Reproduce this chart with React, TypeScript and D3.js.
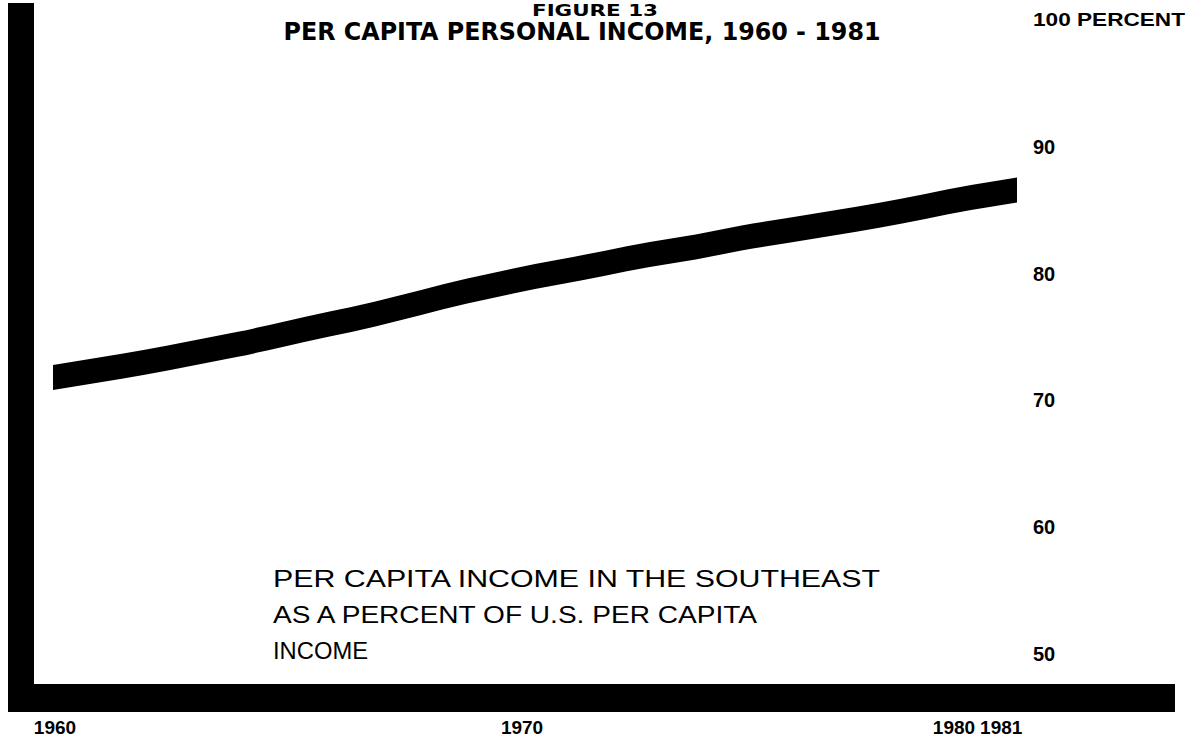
import React, { useEffect, useRef } from "react";
import * as d3 from "d3";

// Southeast per capita income as % of U.S.
const years = [
  1960, 1961, 1962, 1963, 1964, 1965, 1966, 1967, 1968, 1969, 1970,
  1971, 1972, 1973, 1974, 1975, 1976, 1977, 1978, 1979, 1980, 1981,
];
const southeastPct = [
  71.8, 72.4, 73.0, 73.7, 74.4, 75.2, 76.0, 76.8, 77.7, 78.6, 79.4,
  80.1, 80.8, 81.5, 82.1, 82.8, 83.4, 84.0, 84.6, 85.3, 86.0, 86.6,
];
const yTicks = [90, 80, 70, 60, 50];
const xTickYears = [1960, 1970, 1980, 1981];
const titleLines = ["FIGURE 13", "PER CAPITA PERSONAL INCOME, 1960 - 1981"];
const noteLines = [
  "PER CAPITA INCOME IN THE SOUTHEAST",
  "AS A PERCENT OF U.S. PER CAPITA",
  "INCOME",
];

const W = 1190;
const H = 740;

const App: React.FC = () => {
  const svgRef = useRef<SVGSVGElement | null>(null);

  useEffect(() => {
    const svg = d3.select(svgRef.current).attr("width", W).attr("height", H);
    svg.selectAll("*").remove();

    const x = d3.scaleLinear().domain([1960, 1981]).range([53, 1017]);
    const y = d3.scaleLinear().domain([50, 100]).range([654, 20]);

    svg.append("rect").attr("width", W).attr("height", H).attr("fill", "#fff");

    // heavy frame: left post and floor
    svg.append("rect").attr("x", 8).attr("y", 3).attr("width", 26).attr("height", 709).attr("fill", "#000");
    svg.append("rect").attr("x", 8).attr("y", 684).attr("width", 1167).attr("height", 28).attr("fill", "#000");

    // the thick band
    const half = 12.5;
    const data = years.map((yr, i) => ({ yr, v: southeastPct[i] }));
    const band = d3
      .area<{ yr: number; v: number }>()
      .x((d) => x(d.yr))
      .y0((d) => y(d.v) - half)
      .y1((d) => y(d.v) + half)
      .curve(d3.curveMonotoneX);
    svg.append("path").datum(data).attr("d", band).attr("fill", "#000");

    const labelFont = "'Liberation Sans', Arial, sans-serif";

    // right-hand value labels
    svg
      .append("g")
      .selectAll("text")
      .data(yTicks)
      .join("text")
      .attr("x", 1033)
      .attr("y", (d) => y(d) + 7)
      .attr("font-family", labelFont)
      .attr("font-size", 20)
      .attr("font-weight", "bold")
      .text((d) => d);

    svg
      .append("text")
      .attr("x", 1033)
      .attr("y", y(100) + 6)
      .attr("font-family", labelFont)
      .attr("font-size", 19)
      .attr("font-weight", "bold")
      .attr("textLength", 152)
      .attr("lengthAdjust", "spacingAndGlyphs")
      .text("100 PERCENT");

    // year labels under the floor
    const yearPos: Record<number, { dx: number; anchor: string; base: number }> = {
      1960: { dx: 2, anchor: "middle", base: 1960 },
      1970: { dx: 10, anchor: "middle", base: 1970 },
      1980: { dx: 4, anchor: "end", base: 1980 },
      1981: { dx: 9, anchor: "start", base: 1980 },
    };
    svg
      .append("g")
      .selectAll("text")
      .data(xTickYears)
      .join("text")
      .attr("x", (d) => x(yearPos[d].base) + yearPos[d].dx)
      .attr("y", 734)
      .attr("text-anchor", (d) => yearPos[d].anchor)
      .attr("font-family", labelFont)
      .attr("font-size", 19)
      .attr("font-weight", "bold")
      .text((d) => d);

    // title
    const titleFont = "'Liberation Sans Narrow', 'DejaVu Sans Condensed', Arial, sans-serif";
    svg
      .append("text")
      .attr("x", 595)
      .attr("y", 16)
      .attr("text-anchor", "middle")
      .attr("font-family", titleFont)
      .attr("font-size", 15)
      .attr("font-weight", 900)
      .attr("textLength", 126)
      .attr("lengthAdjust", "spacingAndGlyphs")
      .text(titleLines[0]);
    svg
      .append("text")
      .attr("x", 582)
      .attr("y", 40)
      .attr("text-anchor", "middle")
      .attr("font-family", titleFont)
      .attr("font-size", 24)
      .attr("font-weight", 900)
      .attr("textLength", 597)
      .attr("lengthAdjust", "spacingAndGlyphs")
      .text(titleLines[1]);

    // note inside plot
    const noteWidths = [607, 484, 95];
    svg
      .append("g")
      .selectAll("text")
      .data(noteLines)
      .join("text")
      .attr("x", 273)
      .attr("y", (_, i) => 587 + i * 36)
      .attr("font-family", labelFont)
      .attr("font-size", 24)
      .attr("textLength", (_, i) => noteWidths[i])
      .attr("lengthAdjust", "spacingAndGlyphs")
      .text((d) => d);
  }, []);

  return <svg ref={svgRef} style={{ position: "absolute", left: 0, top: 0 }}></svg>;
};

export default App;
